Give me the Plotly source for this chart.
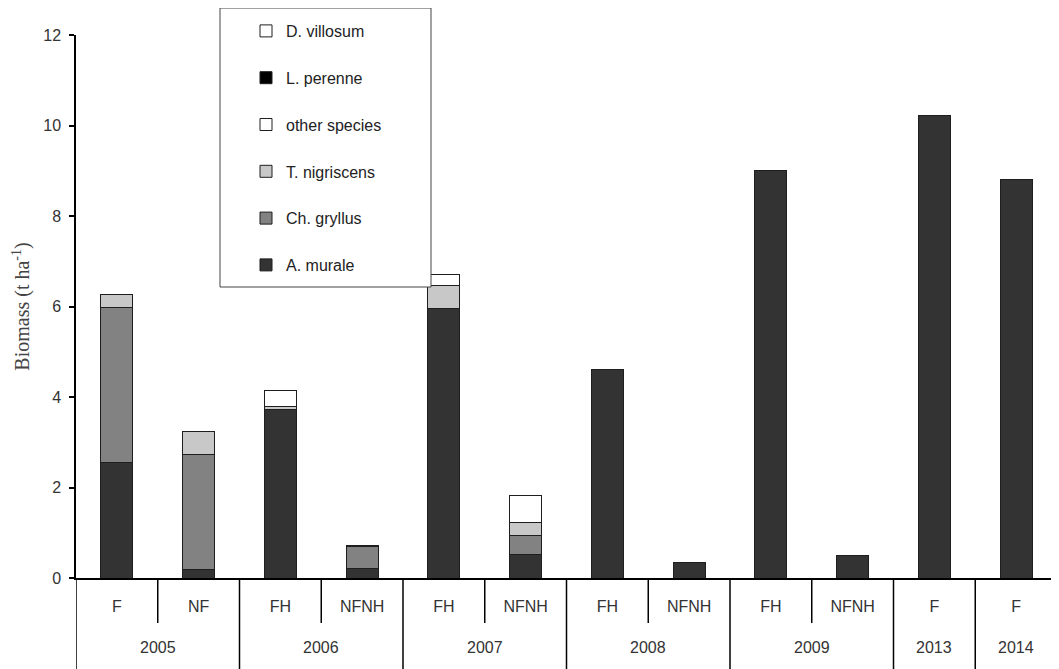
import plotly.graph_objects as go

years = ["2005", "2005", "2006", "2006", "2007", "2007", "2008", "2008", "2009", "2009", "2013", "2014"]
treatments = ["F", "NF", "FH", "NFNH", "FH", "NFNH", "FH", "NFNH", "FH", "NFNH", "F", "F"]

a_murale = [2.55, 0.18, 3.72, 0.22, 5.96, 0.51, 4.60, 0.35, 9.00, 0.50, 10.22, 8.80]
ch_gryllus = [3.43, 2.54, None, 0.47, None, 0.44, None, None, None, None, None, None]
t_nigriscens = [0.28, 0.51, 0.06, None, 0.50, 0.28, None, None, None, None, None, None]
other_species = [None, None, 0.37, None, 0.25, 0.59, None, None, None, None, None, None]
l_perenne = [None, None, None, 0.03, None, None, None, None, None, None, None, None]
d_villosum = [None] * 12

series = [
    ("A. murale", a_murale, "#333333"),
    ("Ch. gryllus", ch_gryllus, "#828282"),
    ("T. nigriscens", t_nigriscens, "#c8c8c8"),
    ("other species", other_species, "#ffffff"),
    ("L. perenne", l_perenne, "#000000"),
    ("D. villosum", d_villosum, "#ffffff"),
]

cats = [f"{y}|{t}" for y, t in zip(years, treatments)]

fig = go.Figure()
n = len(series)
for i, (name, vals, col) in enumerate(series):
    fig.add_trace(go.Bar(
        x=cats, y=vals, name=name, legendgroup=name, legendrank=n - i,
        marker=dict(color=col, line=dict(color="#1e1e1e", width=1)),
        width=0.39,
    ))

# page body has an 8px margin: size the figure so the window shows the chart as in the reference
W, H = 1051, 661
ML, MR, MT, MB = 68, 2, 27, 91
plot_h = H - MT - MB
plot_w = W - ML - MR

def px_x(xw):  # window x -> paper x
    return (xw - 8 - ML) / plot_w

def px_y(yw):  # window y -> paper y
    return (H - MB - (yw - 8)) / plot_h

shapes = []
groups = []
for i, y in enumerate(years):
    if groups and groups[-1][0] == y:
        groups[-1][2] = i
    else:
        groups.append([y, i, i])
for g in groups:
    for k in range(g[1], g[2]):
        shapes.append(dict(type="line", xref="x", yref="paper", x0=k + 0.5, x1=k + 0.5,
                           y0=0, y1=-45 / plot_h, line=dict(color="black", width=1.5)))
shapes.append(dict(type="line", xref="x", yref="paper", x0=-0.5, x1=-0.5,
                   y0=0, y1=-MB / plot_h, line=dict(color="black", width=1.5)))
for g in groups[:-1]:
    shapes.append(dict(type="line", xref="x", yref="paper", x0=g[2] + 0.5, x1=g[2] + 0.5,
                       y0=0, y1=-MB / plot_h, line=dict(color="black", width=1.5)))
# legend box
shapes.append(dict(type="rect", xref="paper", yref="paper",
                   x0=px_x(220), x1=px_x(431), y0=px_y(287), y1=px_y(8),
                   line=dict(color="#444444", width=1), fillcolor="white", layer="above"))

annotations = []
for g in groups:
    annotations.append(dict(x=(g[1] + g[2]) / 2, xref="x", y=px_y(647), yref="paper",
                            text=g[0], showarrow=False, yanchor="middle",
                            font=dict(family="Arial", size=16, color="#333333")))

fig.update_layout(
    width=W, height=H,
    margin=dict(l=ML, r=MR, t=MT, b=MB),
    barmode="stack",
    plot_bgcolor="white", paper_bgcolor="white",
    showlegend=True,
    legend=dict(
        traceorder="grouped", tracegroupgap=23,
        x=px_x(246), xanchor="left",
        y=px_y(14), yanchor="top",
        bgcolor="rgba(0,0,0,0)", borderwidth=0,
        font=dict(family="Arial", size=16, color="#222222"),
    ),
    shapes=shapes,
    annotations=annotations,
    xaxis=dict(
        type="category", categoryorder="array", categoryarray=cats,
        tickvals=cats, ticktext=treatments,
        range=[-0.5, 11.5],
        showline=True, linecolor="black", linewidth=1.5,
        ticks="", showgrid=False, zeroline=False,
        ticklabelstandoff=13,
        tickfont=dict(family="Arial", size=16, color="#333333"),
    ),
    yaxis=dict(
        range=[0, 12], tickvals=[0, 2, 4, 6, 8, 10, 12],
        showline=True, linecolor="black", linewidth=1.5,
        ticks="outside", ticklen=5, tickcolor="black", tickwidth=1.5,
        showgrid=False, zeroline=False,
        ticklabelstandoff=5,
        tickfont=dict(family="Arial", size=16, color="#333333"),
        title=dict(text="Biomass (t ha<sup>-1</sup>)", standoff=8,
                   font=dict(family="Liberation Serif, Times New Roman, serif", size=20, color="#444444")),
    ),
)

fig.write_html("out.html")
